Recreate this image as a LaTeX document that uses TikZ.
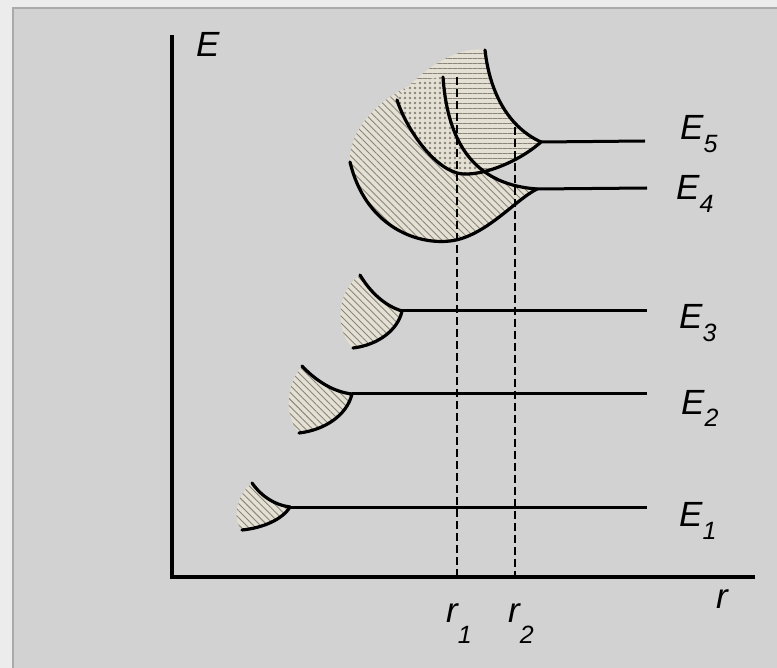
\documentclass[tikz,border=0pt]{standalone}
\usepackage{fontspec}
\setmainfont{Liberation Sans}
\usetikzlibrary{patterns.meta}
\definecolor{outer}{HTML}{ECECEC}
\definecolor{panel}{HTML}{D2D2D2}
\definecolor{rim}{HTML}{AAAAAA}
\definecolor{bandfill}{HTML}{E4E0D4}
\definecolor{hatch}{HTML}{8A857A}
\newcommand{\lsub}[2][13pt]{\raisebox{-#1}{\fontsize{25}{25}\selectfont #2}}
\newcommand{\bandfour}{(537,189) .. controls (480,185) and (448,150) .. (443,77)
  .. controls (400,80) and (348,120) .. (350,162)
  .. controls (365,225) and (415,245) .. (450,241)
  .. controls (485,237) and (515,200) .. (537,189) -- cycle}
\newcommand{\bandfive}{(541,142) .. controls (510,128) and (490,95) .. (485,50)
  .. controls (455,45) and (415,75) .. (397,100)
  .. controls (405,125) and (430,165) .. (457,173)
  .. controls (475,178) and (515,165) .. (541,142) -- cycle}
\begin{document}
\begin{tikzpicture}[x=1pt,y=-1pt,
  lbl/.style={font=\fontsize{35}{40}\selectfont\itshape,inner sep=0pt,anchor=base west},
  axis/.style={line width=3.4pt},
  level/.style={line width=3pt},
  curve/.style={line width=3.2pt,line cap=round},
  guide/.style={line width=2.4pt,dash pattern=on 8pt off 4pt},
  diag/.style={fill=bandfill,postaction={pattern={Lines[angle=-45,distance=5pt,line width=.9pt]},pattern color=hatch}},
  horiz/.style={fill=bandfill,postaction={pattern={Lines[angle=0,distance=5pt,line width=.9pt]},pattern color=hatch}},
  dotty/.style={fill=bandfill,postaction={pattern={Dots[distance=5pt,radius=1.3pt]},pattern color=hatch}}]
\useasboundingbox (0,0) rectangle (777,668);
\fill[outer] (0,0) rectangle (777,668);
\fill[panel] (13,8) rectangle (777,668);
\draw[rim,line width=1.5pt] (13,668) -- (13,8) -- (777,8);

\coordinate (c1) at (290,507);
\coordinate (c2) at (352,394);
\coordinate (c3) at (402,311);
\coordinate (c4) at (537,189);
\coordinate (c5) at (541,142);
\coordinate (t1) at (647,507);
\coordinate (t2) at (647,394);
\coordinate (t3) at (647,311);
\coordinate (t4) at (647,188);
\coordinate (t5) at (645,141);

% bands
\fill[diag] (c1) .. controls (275,505) and (262,497) .. (252,483)
  .. controls (236,495) and (232,520) .. (242,530)
  .. controls (262,528) and (282,520) .. (c1);
\fill[diag] (c2) .. controls (333,392) and (315,380) .. (302,366)
  .. controls (286,385) and (284,415) .. (299,433)
  .. controls (325,430) and (347,415) .. (c2);
\fill[diag] (c3) .. controls (385,306) and (370,292) .. (360,275)
  .. controls (337,290) and (334,330) .. (353,348)
  .. controls (378,345) and (398,330) .. (c3);
\fill[diag] \bandfour;
\fill[horiz] \bandfive;
\begin{scope}
  \clip \bandfour;
  \fill[dotty] \bandfive;
\end{scope}

\coordinate (r1top) at (457,77);
\coordinate (r2top) at (515,127);
\coordinate (r1) at (457,577);
\coordinate (r2) at (515,577);
\draw[guide] (r1top) -- (r1);
\draw[guide] (r2top) -- (r2);

\draw[curve] (252,483) .. controls (262,497) and (275,505) .. (c1);
\draw[curve] (242,530) .. controls (262,528) and (282,520) .. (c1);
\draw[curve] (302,366) .. controls (315,380) and (333,392) .. (c2);
\draw[curve] (299,433) .. controls (325,430) and (347,415) .. (c2);
\draw[curve] (360,275) .. controls (370,292) and (385,306) .. (c3);
\draw[curve] (353,348) .. controls (378,345) and (398,330) .. (c3);
\draw[curve] (443,77) .. controls (448,150) and (480,185) .. (c4);
\draw[curve] (350,162) .. controls (365,225) and (415,245) .. (450,241)
  .. controls (485,237) and (515,200) .. (c4);
\draw[curve] (485,50) .. controls (490,95) and (510,128) .. (c5);
\draw[curve] (397,100) .. controls (405,125) and (430,165) .. (457,173)
  .. controls (475,178) and (515,165) .. (c5);

\foreach \i in {1,...,5}
  \draw[level] (c\i) -- (t\i);

\coordinate (o) at (172,577);
\draw[axis] (172,35) -- (o) -- (755,577);

\node[lbl] (lE) at (196,57) {E};
\node[lbl] (lr) at (716,608) {r};
\node[lbl] (lr1) at (446,622) {r\lsub[21pt]{1}};
\node[lbl] (lr2) at (508,622) {r\lsub[21pt]{2}};
\node[lbl] (lE1) at (679,526) {E\lsub{1}};
\node[lbl] (lE2) at (681,414) {E\lsub{2}};
\node[lbl] (lE3) at (679,329) {E\lsub{3}};
\node[lbl] (lE4) at (676,200) {E\lsub{4}};
\node[lbl] (lE5) at (680,140) {E\lsub{5}};
\end{tikzpicture}
\end{document}
